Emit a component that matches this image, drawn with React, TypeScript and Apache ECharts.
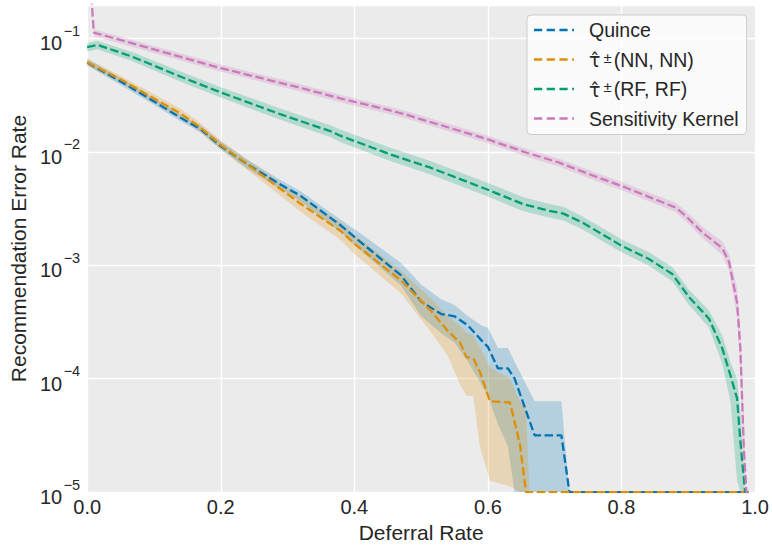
import React, { useEffect, useRef } from 'react';
import * as echarts from 'echarts';

// ---- Data (y values stored as log10 exponents) ----
const xTicks = [0, 0.2, 0.4, 0.6, 0.8, 1.0];

const seriesNames = ['Quince', 'τ̂±(NN, NN)', 'τ̂±(RF, RF)', 'Sensitivity Kernel'];
const seriesColors = ['#0173B2', '#DE8F05', '#029E73', '#CC78BC'];

const quinceX = [0, 0.05, 0.09, 0.14, 0.17, 0.2, 0.24, 0.29, 0.32, 0.38, 0.4, 0.47, 0.5, 0.53, 0.55, 0.57, 0.59, 0.6, 0.615, 0.63, 0.64, 0.67, 0.71, 0.722, 0.99];
const quinceLog = [-1.212, -1.38, -1.52, -1.70, -1.80, -1.95, -2.11, -2.29, -2.39, -2.65, -2.75, -3.09, -3.32, -3.43, -3.45, -3.53, -3.66, -3.72, -3.91, -3.91, -4.0, -4.5, -4.5, -5, -5];
const quinceUpLog = [-1.18, -1.35, -1.49, -1.67, -1.77, -1.91, -2.07, -2.25, -2.35, -2.6, -2.68, -2.98, -3.17, -3.3, -3.35, -3.45, -3.53, -3.55, -3.73, -3.73, -3.85, -4.2, -4.2, -5, -5];
const quinceLoLog = [-1.24, -1.41, -1.55, -1.73, -1.83, -1.98, -2.15, -2.33, -2.44, -2.71, -2.82, -3.18, -3.45, -3.6, -3.68, -3.85, -4.05, -4.15, -4.4, -4.6, -5, -5, -5, -5, -5];

const nnX = [0, 0.05, 0.09, 0.14, 0.166, 0.2, 0.24, 0.29, 0.32, 0.38, 0.4, 0.47, 0.516, 0.54, 0.558, 0.568, 0.578, 0.588, 0.603, 0.633, 0.648, 0.657, 0.662, 0.99];
const nnLog = [-1.212, -1.36, -1.496, -1.663, -1.77, -1.94, -2.11, -2.33, -2.46, -2.70, -2.81, -3.135, -3.41, -3.58, -3.68, -3.81, -3.82, -3.94, -4.20, -4.21, -4.58, -5, -5, -5];
const nnUpLog = [-1.18, -1.33, -1.46, -1.62, -1.73, -1.9, -2.07, -2.28, -2.4, -2.63, -2.73, -3.05, -3.3, -3.45, -3.53, -3.6, -3.62, -3.72, -3.9, -4.0, -4.2, -4.25, -5, -5];
const nnLoLog = [-1.24, -1.39, -1.53, -1.70, -1.81, -1.98, -2.16, -2.39, -2.53, -2.78, -2.9, -3.25, -3.6, -3.8, -4.05, -4.15, -4.15, -4.6, -4.9, -4.95, -5, -5, -5, -5];

const rfX = [0, 0.015, 0.067, 0.141, 0.2, 0.29, 0.364, 0.38, 0.454, 0.514, 0.598, 0.653, 0.692, 0.713, 0.742, 0.752, 0.8, 0.841, 0.876, 0.901, 0.931, 0.951, 0.963, 0.973, 0.978, 0.985, 0.99];
const rfLog = [-1.077, -1.057, -1.16, -1.34, -1.476, -1.67, -1.818, -1.86, -2.023, -2.14, -2.33, -2.462, -2.52, -2.545, -2.625, -2.66, -2.828, -2.945, -3.077, -3.281, -3.471, -3.735, -3.97, -4.174, -4.554, -5, -5];
const rfUpLog = [-1.04, -1.02, -1.12, -1.295, -1.43, -1.62, -1.765, -1.805, -1.965, -2.08, -2.27, -2.40, -2.46, -2.485, -2.57, -2.605, -2.77, -2.885, -3.015, -3.215, -3.40, -3.62, -3.85, -4.0, -4.3, -5, -5];
const rfLoLog = [-1.115, -1.095, -1.2, -1.385, -1.52, -1.72, -1.87, -1.915, -2.08, -2.2, -2.39, -2.525, -2.58, -2.605, -2.685, -2.72, -2.885, -3.005, -3.14, -3.35, -3.55, -3.87, -4.2, -4.9, -5, -5, -5];

const skX = [0, 0.01, 0.2, 0.32, 0.38, 0.449, 0.479, 0.6, 0.658, 0.707, 0.752, 0.8, 0.881, 0.896, 0.921, 0.951, 0.961, 0.973, 0.978, 0.983, 0.987, 0.99];
const skLog = [-0.1, -0.949, -1.262, -1.437, -1.53, -1.628, -1.675, -1.891, -2.008, -2.096, -2.198, -2.301, -2.491, -2.565, -2.71, -2.85, -2.97, -3.33, -3.74, -4.6, -5, -5];
const skUpLog = [-0.07, -0.92, -1.23, -1.405, -1.5, -1.596, -1.643, -1.858, -1.975, -2.062, -2.163, -2.265, -2.45, -2.52, -2.66, -2.79, -2.9, -3.2, -3.55, -4.3, -5, -5];
const skLoLog = [-0.13, -0.98, -1.295, -1.47, -1.565, -1.662, -1.708, -1.925, -2.043, -2.132, -2.235, -2.338, -2.53, -2.61, -2.76, -2.91, -3.05, -3.45, -3.95, -4.85, -5, -5];

const yMin = 1e-5;
const yMax = 0.197;

const FONT = '"Liberation Sans", Arial, Helvetica, sans-serif';
const MATH_FONT = '"DejaVu Sans", sans-serif';
const TEXT = '#262626';

const pw = (e: number) => Math.pow(10, e);

// legend sample: three dashes and a short stub, like matplotlib's dashed handle
const DASH_ICON = 'path://M0 0H9V1H0Z M14 0H23V1H14Z M28 0H37V1H28Z M42 0H44V1H42Z';

function hexToRgba(hex: string, a: number) {
  const r = parseInt(hex.slice(1, 3), 16);
  const g = parseInt(hex.slice(3, 5), 16);
  const b = parseInt(hex.slice(5, 7), 16);
  return `rgba(${r},${g},${b},${a})`;
}

function lineSeries(name: string, xs: number[], ls: number[], color: string) {
  return {
    type: 'line',
    name,
    data: xs.map((x, i) => [x, pw(ls[i])]),
    symbol: 'none',
    showSymbol: false,
    clip: true,
    z: 3,
    lineStyle: { color, width: 2.3, type: [8.5, 3.5] },
    itemStyle: { color },
  };
}

function bandSeries(name: string, xs: number[], up: number[], lo: number[], color: string) {
  return {
    type: 'custom',
    name,
    silent: true,
    clip: true,
    z: 1,
    data: [[0.5, 1e-3]],
    renderItem: (params: any, api: any) => {
      if (params.dataIndex !== 0) return null;
      const pts: number[][] = [];
      for (let i = 0; i < xs.length; i++) pts.push(api.coord([xs[i], pw(up[i])]));
      for (let i = xs.length - 1; i >= 0; i--) pts.push(api.coord([xs[i], pw(lo[i])]));
      return {
        type: 'polygon',
        shape: { points: pts },
        style: { fill: hexToRgba(color, 0.23), stroke: null },
      };
    },
  };
}

export default function App() {
  const ref = useRef<HTMLDivElement>(null);
  useEffect(() => {
    if (!ref.current) return;
    const chart = echarts.init(ref.current, undefined, { renderer: 'svg' });
    const option: any = {
      animation: false,
      backgroundColor: '#ffffff',
      grid: {
        left: 85.3,
        right: 16,
        top: 5,
        bottom: 54,
        show: true,
        backgroundColor: '#EBEBEB',
        borderWidth: 0,
      },
      legend: {
        data: seriesNames.map((n, i) => ({ name: n, icon: DASH_ICON, itemStyle: { color: seriesColors[i] } })),
        orient: 'vertical',
        left: 527,
        top: 15,
        padding: [5, 8, 6, 7],
        itemGap: 9.5,
        itemWidth: 40,
        itemHeight: 2.6,
        symbolKeepAspect: false,
        backgroundColor: 'rgba(255,255,255,0.8)',
        borderColor: '#cccccc',
        borderWidth: 1,
        borderRadius: 4,
        textStyle: {
          fontSize: 19.5,
          color: TEXT,
          fontFamily: FONT,
          lineHeight: 20,
          rich: {
            f: { fontSize: 19.5, color: TEXT, fontFamily: FONT, lineHeight: 20, verticalAlign: 'bottom', padding: [0, 0, 0, 10] },
            g: { fontSize: 19, color: TEXT, fontFamily: MATH_FONT, lineHeight: 20, verticalAlign: 'bottom', padding: [0, 0, 0, 10] },
            t: { fontSize: 19.5, color: TEXT, fontFamily: FONT, lineHeight: 20, verticalAlign: 'bottom' },
            s: { fontSize: 15, color: TEXT, fontFamily: FONT, lineHeight: 20, verticalAlign: 'top', padding: [0, 2, 0, 3] },
          },
        },
        formatter: (name: string) => {
          const k = name.indexOf('±');
          if (k < 0) return `{f|${name}}`;
          return `{g|${name.slice(0, k)}}{s|±}{t|${name.slice(k + 1)}}`;
        },
      },
      xAxis: {
        type: 'value',
        min: xTicks[0],
        max: xTicks[xTicks.length - 1],
        interval: 0.2,
        axisLine: { show: false },
        axisTick: { show: false },
        splitLine: { show: true, lineStyle: { color: '#ffffff', width: 1.3 } },
        axisLabel: {
          margin: 5,
          fontSize: 20,
          color: TEXT,
          fontFamily: FONT,
          formatter: (v: number) => v.toFixed(1),
        },
        name: 'Deferral Rate',
        nameLocation: 'middle',
        nameGap: 28,
        nameTextStyle: { fontSize: 21, color: TEXT, fontFamily: FONT },
      },
      yAxis: {
        type: 'log',
        logBase: 10,
        min: yMin,
        max: yMax,
        axisLine: { show: false },
        axisTick: { show: false },
        splitLine: { show: true, lineStyle: { color: '#ffffff', width: 1.3 } },
        axisLabel: {
          margin: 7,
          color: TEXT,
          fontFamily: FONT,
          formatter: (v: number) => {
            const e = Math.log10(v);
            const r = Math.round(e);
            if (Math.abs(e - r) > 1e-6) return '';
            return `{b|10}{s|−${-r}}`;
          },
          rich: {
            b: { fontSize: 20, color: TEXT, fontFamily: FONT, lineHeight: 30, verticalAlign: 'bottom' },
            s: { fontSize: 14.5, color: TEXT, fontFamily: FONT, lineHeight: 30, verticalAlign: 'top', padding: [0, 0, 0, 1.5] },
          },
        },
        name: 'Recommendation Error Rate',
        nameLocation: 'middle',
        nameGap: 55,
        nameTextStyle: { fontSize: 21, color: TEXT, fontFamily: FONT },
      },
      series: [
        bandSeries('Quince band', quinceX, quinceUpLog, quinceLoLog, seriesColors[0]),
        bandSeries('NN band', nnX, nnUpLog, nnLoLog, seriesColors[1]),
        bandSeries('RF band', rfX, rfUpLog, rfLoLog, seriesColors[2]),
        bandSeries('SK band', skX, skUpLog, skLoLog, seriesColors[3]),
        lineSeries(seriesNames[0], quinceX, quinceLog, seriesColors[0]),
        lineSeries(seriesNames[1], nnX, nnLog, seriesColors[1]),
        lineSeries(seriesNames[2], rfX, rfLog, seriesColors[2]),
        lineSeries(seriesNames[3], skX, skLog, seriesColors[3]),
      ],
    };
    chart.setOption(option);
    return () => chart.dispose();
  }, []);
  return (
    <div
      ref={ref}
      style={{ position: 'fixed', left: 0, top: 0, width: 772, height: 548 }}
    />
  );
}
